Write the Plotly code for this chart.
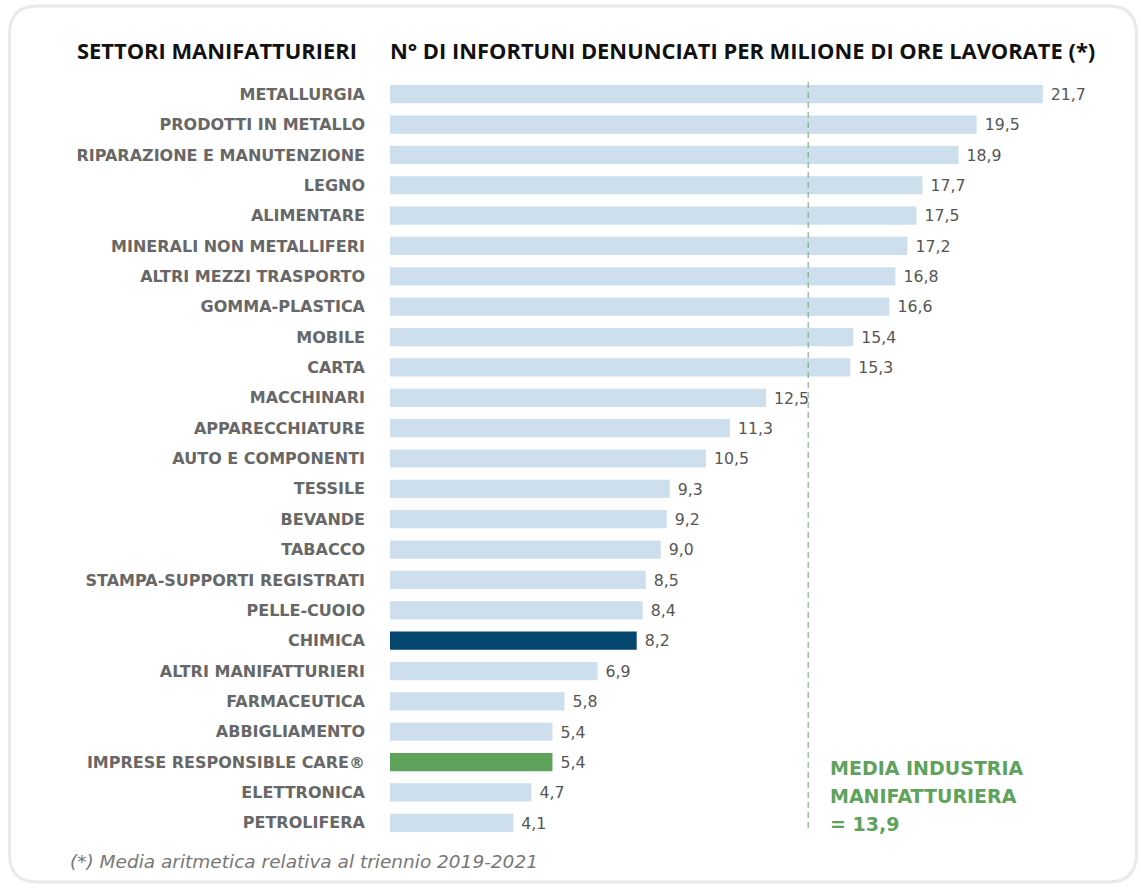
import plotly.graph_objects as go

categories = [
    "METALLURGIA", "PRODOTTI IN METALLO", "RIPARAZIONE E MANUTENZIONE", "LEGNO",
    "ALIMENTARE", "MINERALI NON METALLIFERI", "ALTRI MEZZI TRASPORTO", "GOMMA-PLASTICA",
    "MOBILE", "CARTA", "MACCHINARI", "APPARECCHIATURE", "AUTO E COMPONENTI", "TESSILE",
    "BEVANDE", "TABACCO", "STAMPA-SUPPORTI REGISTRATI", "PELLE-CUOIO", "CHIMICA",
    "ALTRI MANIFATTURIERI", "FARMACEUTICA", "ABBIGLIAMENTO", "IMPRESE RESPONSIBLE CARE®",
    "ELETTRONICA", "PETROLIFERA",
]
values = [21.7, 19.5, 18.9, 17.7, 17.5, 17.2, 16.8, 16.6, 15.4, 15.3, 12.5, 11.3, 10.5,
          9.3, 9.2, 9.0, 8.5, 8.4, 8.2, 6.9, 5.8, 5.4, 5.4, 4.7, 4.1]
media_industria = 13.9

highlight_dark = "CHIMICA"
highlight_green = "IMPRESE RESPONSIBLE CARE®"

LIGHT = "#cddeed"
DARK = "#03466e"
GREEN = "#5ea25b"
colors = [DARK if c == highlight_dark else GREEN if c == highlight_green else LIGHT
          for c in categories]

W, H = 1141, 888
ML, MR, MT, MB = 390, 29, 79, 50
PW, PH = W - ML - MR, H - MT - MB


def px(x):
    return (x - ML) / PW


def py(y):
    return (H - MB - y) / PH


fig = go.Figure()
fig.add_trace(go.Bar(
    x=values, y=categories, orientation="h",
    marker=dict(color=colors, line=dict(width=0)),
    width=0.6,
    texttemplate=" %{x:.1f}", textposition="outside",
    textfont=dict(family="DejaVu Sans", size=19, color="#555555"),
    cliponaxis=False, hoverinfo="skip",
))

# card border (rounded rectangle)
l, r, t, b, rad = 9.5, 1136.5, 6, 882, 28
path = (
    f"M {px(l + rad)},{py(t)} L {px(r - rad)},{py(t)} "
    f"Q {px(r)},{py(t)} {px(r)},{py(t + rad)} "
    f"L {px(r)},{py(b - rad)} Q {px(r)},{py(b)} {px(r - rad)},{py(b)} "
    f"L {px(l + rad)},{py(b)} Q {px(l)},{py(b)} {px(l)},{py(b - rad)} "
    f"L {px(l)},{py(t + rad)} Q {px(l)},{py(t)} {px(l + rad)},{py(t)} Z"
)
shapes = [
    dict(type="path", xref="paper", yref="paper", path=path,
         line=dict(color="#e9e9e9", width=3), layer="below"),
    dict(type="line", xref="x", yref="paper", x0=media_industria, x1=media_industria,
         y0=py(82), y1=py(832), line=dict(color="#6aaa6a", width=1, dash="6px,4px"),
         layer="above"),
]

TITLE_FONT = dict(family="Open Sans", size=21.9, color="#111111", weight="bold")
annotations = [
    dict(text="SETTORI MANIFATTURIERI", x=px(75), y=py(50), xref="paper", yref="paper",
         xanchor="left", yanchor="middle", showarrow=False, font=TITLE_FONT),
    dict(text="N° DI INFORTUNI DENUNCIATI PER MILIONE DI ORE LAVORATE (*)", x=px(388), y=py(50),
         xref="paper", yref="paper", xanchor="left", yanchor="middle", showarrow=False,
         font=TITLE_FONT),
    dict(text="(*) Media aritmetica relativa al triennio 2019-2021", x=px(68), y=py(861),
         xref="paper", yref="paper", xanchor="left", yanchor="middle", showarrow=False,
         font=dict(family="DejaVu Sans", size=18.5, color="#777777", style="italic")),
]
for txt, yy in [("MEDIA INDUSTRIA", 768), ("MANIFATTURIERA", 796),
                (f"= {media_industria:.1f}".replace(".", ","), 824)]:
    annotations.append(dict(text=txt, x=px(828), y=py(yy), xref="paper", yref="paper",
                            xanchor="left", yanchor="middle", showarrow=False,
                            font=dict(family="DejaVu Sans", size=19, color=GREEN,
                                      weight="bold")))

fig.update_layout(
    width=W, height=H,
    margin=dict(l=ML, r=MR, t=MT, b=MB),
    paper_bgcolor="white", plot_bgcolor="white",
    separators=", ",
    showlegend=False,
    bargap=0.4,
    xaxis=dict(range=[0, 24], visible=False, fixedrange=True),
    yaxis=dict(range=[24.5, -0.5], showgrid=False, zeroline=False, showline=False,
               ticks="", ticklabelstandoff=24,
               tickfont=dict(family="DejaVu Sans", size=16, color="#676767", weight="bold"),
               fixedrange=True),
    shapes=shapes,
    annotations=annotations,
)

fig.write_html("out.html", config={"displayModeBar": False},
               post_script="document.body.style.margin='0';")
